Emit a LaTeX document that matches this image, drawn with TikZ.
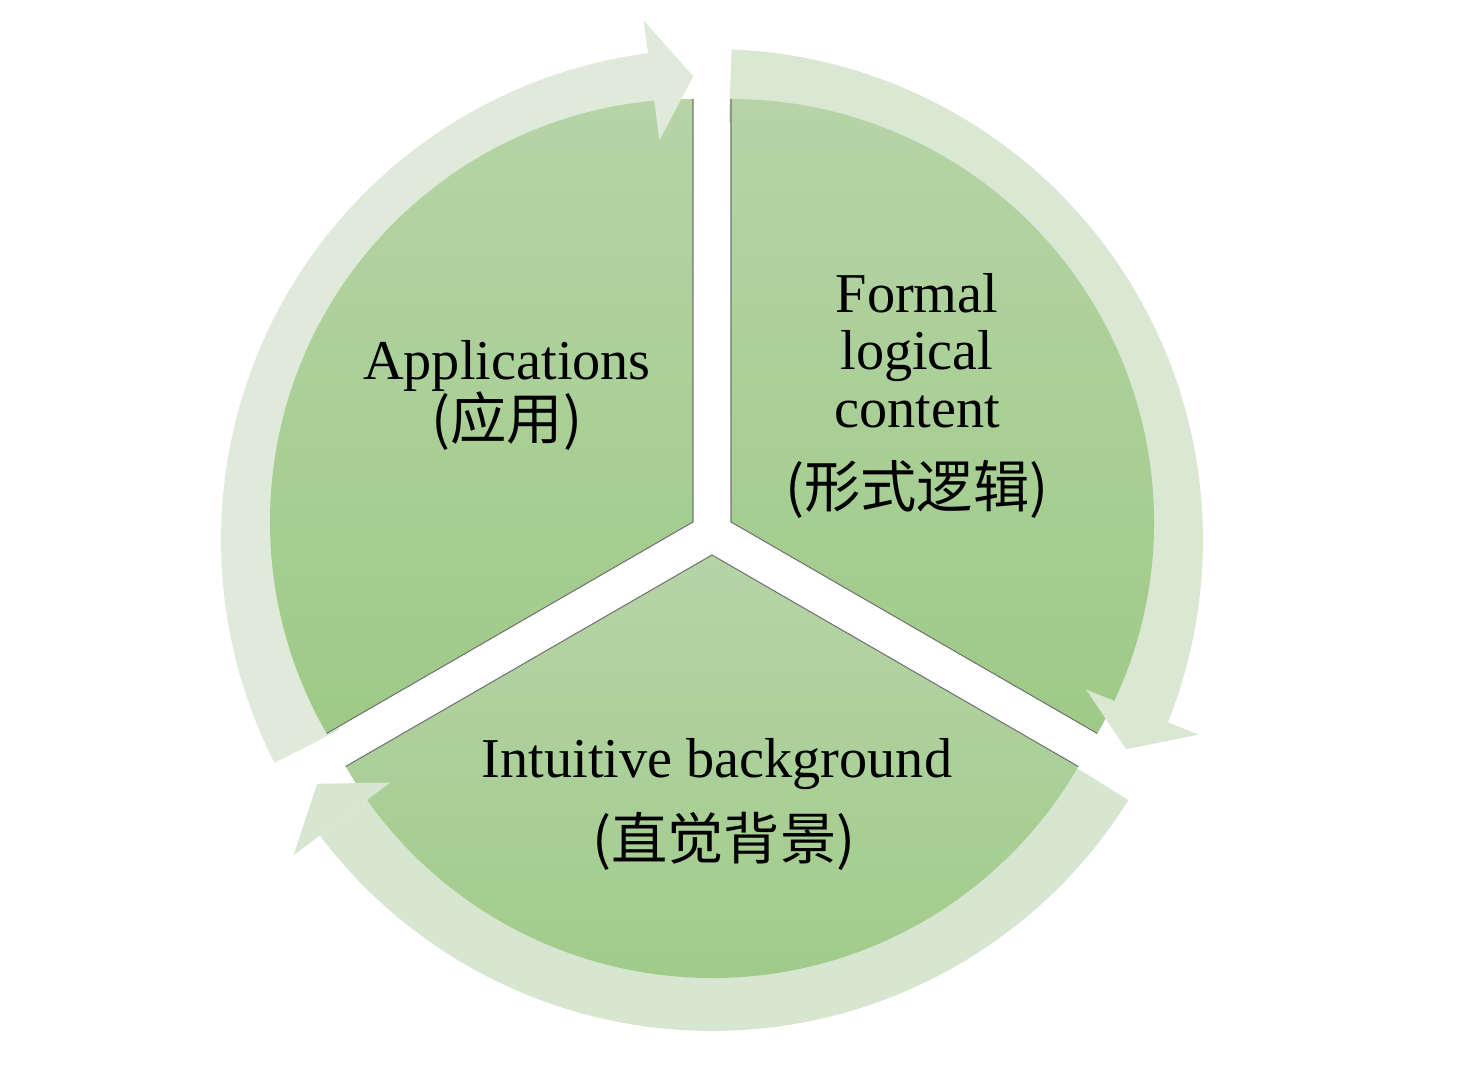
\documentclass[tikz,border=0pt]{standalone}
\usepackage{fontspec}
\setmainfont{Liberation Serif}
\newfontfamily\cjk{Noto Sans CJK SC}
\usepackage{tikz}
\usetikzlibrary{calc}

\definecolor{slicetop}{RGB}{182,212,166}
\definecolor{slicebot}{RGB}{158,202,135}
\definecolor{ringA}{RGB}{223,234,218}
\definecolor{ringB}{RGB}{217,231,211}
\definecolor{ringC}{RGB}{215,230,208}

\begin{document}
\begin{tikzpicture}[
    x=0.01cm, y=0.01cm,
    slice/.style={top color=slicetop, bottom color=slicebot},
    sliceedge/.style={draw=black!55, line width=0.3pt},
    textline/.style={font=\fontsize{16}{17}\selectfont, anchor=base, inner sep=0pt},
    cjkline/.style={font=\fontsize{16}{17}\selectfont\cjk, anchor=base, inner sep=0pt}
]
\useasboundingbox (-712,-540) rectangle (766,540);

% Radii
\def\rPie{423}
\def\rIn{418}
\def\rOut{491}
\def\rMid{464}
\def\rWi{403}
\def\rWo{524}

% Slice corners (pie pulled apart)
\coordinate (cL) at (-19,18);
\coordinate (cR) at (19,18);
\coordinate (cB) at (0,-15);

% === Ring bands (under the slices) ===
\fill[ringA] (207:\rOut) arc[start angle=207, end angle=97.5, radius=\rOut]
    -- (97.5:\rIn) arc[start angle=97.5, end angle=207, radius=\rIn] -- cycle;
\fill[ringB] (87.7:\rOut) arc[start angle=87.7, end angle=-21.8, radius=\rOut]
    -- (-21.8:\rIn) arc[start angle=-21.8, end angle=87.7, radius=\rIn] -- cycle;
\fill[ringC] (-32:\rOut) arc[start angle=-32, end angle=-143, radius=\rOut]
    -- (-143:\rIn) arc[start angle=-143, end angle=-32, radius=\rIn] -- cycle;

% === Slices ===
\shade[slice] (cL) -- ++(90:\rPie) arc[start angle=90, end angle=210, radius=\rPie] -- cycle;
\shade[slice] (cR) -- ++(-30:\rPie) arc[start angle=-30, end angle=90, radius=\rPie] -- cycle;
\shade[slice] (cB) -- ++(210:\rPie) arc[start angle=210, end angle=330, radius=\rPie] -- cycle;

\draw[sliceedge] ($(cL)+(90:\rPie)$) -- (cL) -- ($(cL)+(210:\rPie)$);
\draw[sliceedge] ($(cR)+(90:\rPie)$) -- (cR) -- ($(cR)+(-30:\rPie)$);
\draw[sliceedge] ($(cB)+(210:\rPie)$) -- (cB) -- ($(cB)+(330:\rPie)$);

% === Arrow heads (over the slices) ===
\fill[ringA] (97.5:\rWo) -- (92.3:\rMid) -- (97.5:\rWi) -- cycle;
\fill[ringB] (-21.8:\rWo) -- (-26.8:\rMid) -- (-21.8:\rWi) -- cycle;
\fill[ringC] (-143:\rWo) -- (-148.3:\rMid) -- (-143:\rWi) -- cycle;

% === Labels ===
\node[textline] (appEn) at (-205,160) {Applications};
\node[cjkline]  (appZh) at (-205,100) {(应用)};

\node[textline] (formA) at (205,227) {Formal};
\node[textline] (formB) at (205,170) {logical};
\node[textline] (formC) at (205,112) {content};
\node[cjkline]  (formZh) at (205,32) {(形式逻辑)};

\node[textline] (intuEn) at (5,-238) {Intuitive background};
\node[cjkline]  (intuZh) at (12,-320) {(直觉背景)};
\end{tikzpicture}
\end{document}
